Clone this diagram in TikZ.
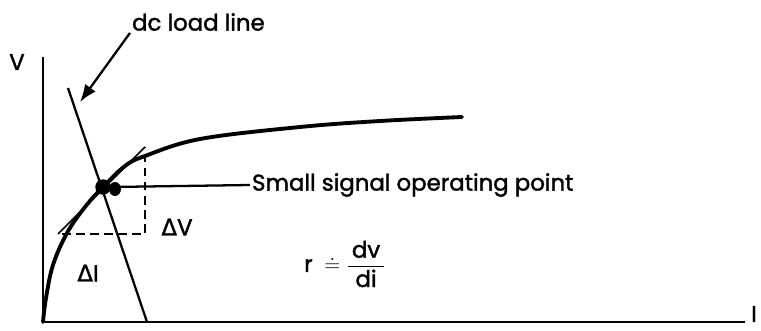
\documentclass[tikz,border=0pt]{standalone}
\usepackage{amsmath}
\usepackage{fontspec}
\setmainfont{Poppins}[FakeBold=1.6]
\newfontfamily\grkfont{DejaVu Sans}[FakeBold=1.2]
\usetikzlibrary{arrows.meta}

\begin{document}
\begin{tikzpicture}[x=0.02cm, y=-0.02cm,
  every node/.style={font=\fontsize{13}{15}\selectfont},
  axis/.style={line width=1.6pt},
  curve/.style={line width=2.2pt, line cap=round},
  load/.style={line width=1.3pt},
  tang/.style={line width=0.9pt},
  guide/.style={line width=1.1pt, dash pattern=on 5pt off 3pt},
  pointer/.style={-{Latex[length=3.5mm, width=2.6mm]}, line width=1.3pt},
  dot/.style={circle, fill, inner sep=0pt, minimum size=0.31cm},
  lbl/.style={inner sep=1pt},
]
  \useasboundingbox (0,0) rectangle (761,331);

  % Axes
  \coordinate (orig) at (43,322);
  \coordinate (vtop) at (43,57);
  \coordinate (iend) at (745,322);
  \draw[axis] (vtop) -- (orig) -- (iend);
  \node[lbl] (vlab) at (17,62) {V};
  \node[lbl] (ilab) at (754,314) {I};

  % Characteristic curve
  \draw[curve] plot[smooth, tension=0.6] coordinates {
    (43,322) (46,298) (53,265) (67,233) (85,207) (103,187)
    (125,166) (145,156) (200,139) (300,127) (380,121) (462,117)};

  % dc load line and tangent
  \coordinate (ltop) at (68,88);
  \coordinate (lbot) at (147,322);
  \draw[load] (ltop) -- (lbot);
  \coordinate (tlow) at (58,234);
  \coordinate (thigh) at (145,147);
  \draw[tang] (tlow) -- (thigh);

  % Increments
  \coordinate (dcorner) at (145,234);
  \coordinate (dleft) at (62,234);
  \draw[guide] (dleft) -- (dcorner) -- (thigh);
  \node[lbl] (dv) at (177,227) {{\grkfont Δ}V};
  \node[lbl] (di) at (88,273) {{\grkfont Δ}I};

  % Operating point
  \node[dot] (q) at (103,187) {};
  \fill (115,189) ellipse [x radius=6, y radius=7];

  % Labels
  \node[lbl, anchor=west] (dcl) at (130,22) {dc load line};
  \coordinate (dctip) at (80,102);
  \draw[pointer] (dcl.south west) -- (dctip);
  \node[lbl, anchor=west] (sso) at (250,185) {Small signal operating point};
  \draw[load] (q.east) -- (sso.west);
  \node[lbl] (rel) at (345,264) {$\text{r}\;\doteq\dfrac{\,\text{dv}\,}{\text{di}}$};
\end{tikzpicture}
\end{document}
